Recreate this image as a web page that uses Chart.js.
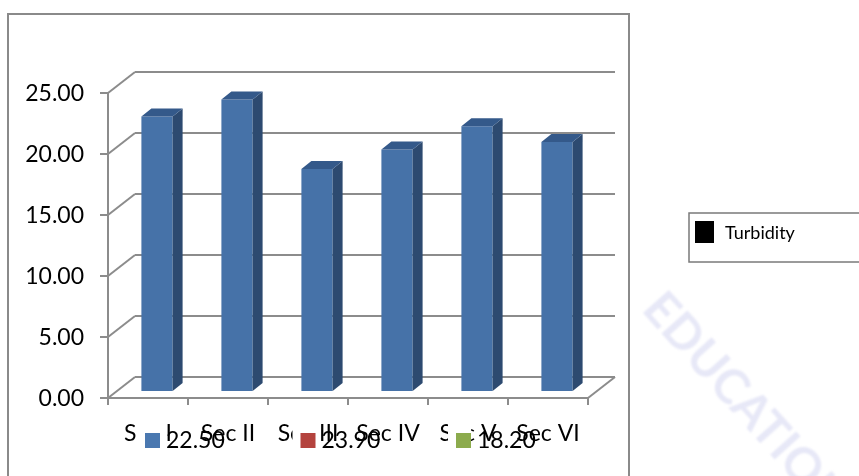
<!DOCTYPE html>
<html>
<head>
<meta charset="utf-8">
<script src="https://cdn.jsdelivr.net/npm/chart.js@4/dist/chart.umd.min.js"></script>
<style>
  html, body { margin: 0; padding: 0; background: #fff; }
  canvas { display: block; }
</style>
</head>
<body>
<canvas id="turbidityChart" width="859" height="476"></canvas>
<script>
// turbidity readings per section
const sections = ['Sec I', 'Sec II', 'Sec III', 'Sec IV', 'Sec V', 'Sec VI'];
const turbidity = [22.50, 23.90, 18.20, 19.80, 21.70, 20.40];
const seriesLabel = 'Turbidity';
const yMin = 0;
const yMax = 25;
const yStep = 5;

// the value legend under the axis shows the first three readings
const legendValues = turbidity.slice(0, 3);
const legendColors = ['#4a78b0', '#b4433e', '#8cab4d'];

const FONT = 'Lato, "Open Sans", sans-serif';
const GRID = '#8c8c8c';
const BAR_FRONT = '#4672a8';
const BAR_SIDE = '#2d4a70';
const BAR_TOP = '#34598a';

// offsets of the front and back walls from the plane the bars stand on
const FRONT = { dx: -9, dy: 7 };
const BACK = { dx: 18, dy: -14 };
const DEPTH = { dx: 10, dy: -8 };

function line(ctx, x1, y1, x2, y2) {
    ctx.beginPath();
    ctx.moveTo(x1, y1);
    ctx.lineTo(x2, y2);
    ctx.stroke();
}

function poly(ctx, pts) {
    ctx.beginPath();
    ctx.moveTo(pts[0][0], pts[0][1]);
    for (let i = 1; i < pts.length; i++) ctx.lineTo(pts[i][0], pts[i][1]);
    ctx.closePath();
    ctx.fill();
}

const box3d = {
    id: 'box3d',
    beforeDatasetsDraw(chart) {
        const {ctx, scales: {x, y}} = chart;
        const L = x.left, R = x.right;
        const y0 = y.getPixelForValue(yMin);
        const yTop = y.getPixelForValue(yMax);
        ctx.save();
        ctx.strokeStyle = GRID;
        ctx.lineWidth = 2;

        y.ticks.forEach(t => {
            const py = y.getPixelForValue(t.value);
            line(ctx, L + FRONT.dx, py + FRONT.dy, L + BACK.dx, py + BACK.dy);
            line(ctx, L + BACK.dx, py + BACK.dy, R + BACK.dx, py + BACK.dy);
            line(ctx, L + FRONT.dx - 8, py + FRONT.dy, L + FRONT.dx, py + FRONT.dy);
        });

        // front axis and floor
        line(ctx, L + FRONT.dx, yTop + FRONT.dy, L + FRONT.dx, y0 + FRONT.dy + 7);
        line(ctx, L + FRONT.dx, y0 + FRONT.dy, R + FRONT.dx, y0 + FRONT.dy);
        line(ctx, R + FRONT.dx, y0 + FRONT.dy, R + BACK.dx, y0 + BACK.dy);

        const half = (x.getPixelForValue(1) - x.getPixelForValue(0)) / 2;
        sections.forEach((s, i) => {
            const px = x.getPixelForValue(i) + half + FRONT.dx;
            line(ctx, px, y0 + FRONT.dy, px, y0 + FRONT.dy + 7);
        });
        ctx.restore();
    },
    afterDatasetsDraw(chart) {
        const ctx = chart.ctx;
        ctx.save();
        chart.getDatasetMeta(0).data.forEach(bar => {
            const {x: cx, y: top, base, width} = bar.getProps(['x', 'y', 'base', 'width'], true);
            const l = cx - width / 2, r = cx + width / 2;
            ctx.fillStyle = BAR_SIDE;
            poly(ctx, [[r, top], [r + DEPTH.dx, top + DEPTH.dy], [r + DEPTH.dx, base + DEPTH.dy], [r, base]]);
            ctx.fillStyle = BAR_TOP;
            poly(ctx, [[l, top], [l + DEPTH.dx, top + DEPTH.dy], [r + DEPTH.dx, top + DEPTH.dy], [r, top]]);
        });
        ctx.restore();
    },
    afterDraw(chart) {
        const ctx = chart.ctx;
        ctx.save();

        // value legend sitting over the category labels
        ctx.font = '23px ' + FONT;
        ctx.textBaseline = 'alphabetic';
        ctx.textAlign = 'left';
        legendValues.forEach((v, i) => {
            const sx = 145 + i * 155.5;
            ctx.fillStyle = '#fff';
            ctx.fillRect(sx - 8, 424, 23, 26);
            ctx.fillStyle = legendColors[i];
            ctx.fillRect(sx, 433, 15, 15);
            ctx.fillStyle = '#000';
            ctx.fillText(v.toFixed(2), sx + 21, 448);
        });

        // series legend on the right
        ctx.strokeStyle = '#7a7a7a';
        ctx.lineWidth = 1.5;
        ctx.strokeRect(689, 213, 200, 49);
        ctx.fillStyle = '#000';
        ctx.fillRect(695, 221, 19, 22);
        ctx.font = '18px ' + FONT;
        ctx.textBaseline = 'middle';
        ctx.fillText(chart.data.datasets[0].label, 725, 233);

        // outer frame
        ctx.strokeStyle = '#8a8a8a';
        ctx.lineWidth = 2;
        ctx.strokeRect(8, 14, 621, 480);

        // faint diagonal mark
        ctx.translate(652, 300);
        ctx.rotate(48 * Math.PI / 180);
        ctx.font = 'bold 48px ' + FONT;
        ctx.fillStyle = 'rgba(170, 172, 228, 0.28)';
        ctx.filter = 'blur(1.2px)';
        ctx.textBaseline = 'middle';
        ctx.fillText('EDUCATION', 0, 0);
        ctx.restore();
    }
};

const ctx = document.getElementById('turbidityChart');

new Chart(ctx, {
    type: 'bar',
    data: {
        labels: sections,
        datasets: [{
            label: seriesLabel,
            data: turbidity,
            backgroundColor: BAR_FRONT,
            borderWidth: 0,
            barPercentage: 0.39,
            categoryPercentage: 1
        }]
    },
    options: {
        responsive: false,
        animation: false,
        layout: {
            padding: { top: 86, right: 262, bottom: 0, left: 0 }
        },
        plugins: {
            legend: { display: false },
            tooltip: { enabled: false }
        },
        scales: {
            y: {
                min: yMin,
                max: yMax,
                grid: { display: false, drawTicks: false },
                border: { display: false },
                ticks: {
                    stepSize: yStep,
                    padding: 33,
                    labelOffset: 8,
                    color: '#000',
                    font: { family: FONT, size: 23 },
                    callback: v => v.toFixed(2)
                },
                afterFit: scale => { scale.width = 117; }
            },
            x: {
                grid: { display: false, drawTicks: false },
                border: { display: false },
                ticks: {
                    padding: 29,
                    labelOffset: -9,
                    maxRotation: 0,
                    autoSkip: false,
                    color: '#000',
                    font: { family: FONT, size: 23 }
                },
                afterFit: scale => { scale.height = 85; }
            }
        }
    },
    plugins: [box3d]
});
</script>
</body>
</html>
